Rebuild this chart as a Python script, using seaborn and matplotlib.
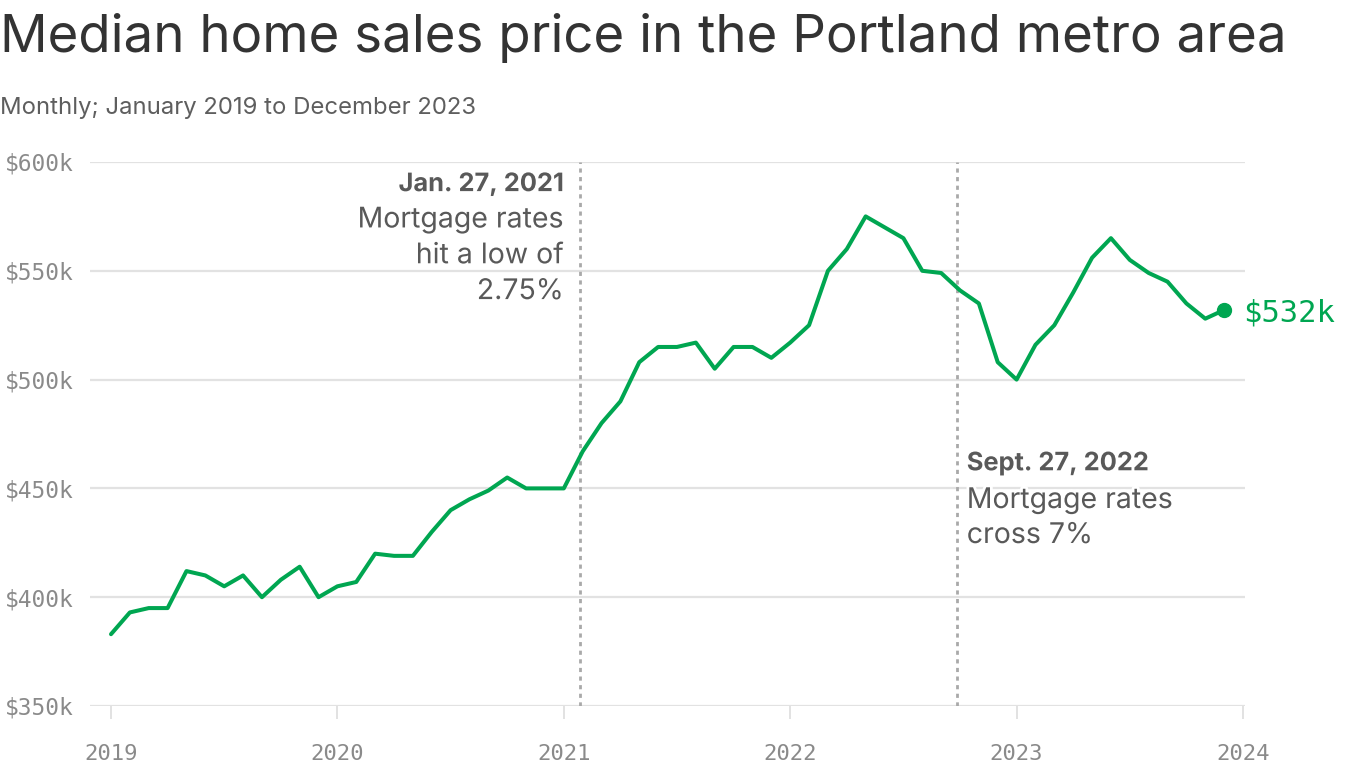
import matplotlib
matplotlib.use("Agg")
import matplotlib.pyplot as plt
import matplotlib.patheffects as pe
import seaborn as sns
import pandas as pd
import numpy as np

# ---- data (thousands of dollars), monthly Jan 2019 .. Dec 2023 ----
months = pd.date_range("2019-01-01", "2023-12-01", freq="MS")
price_k = [
    383, 393, 395, 395, 412, 410, 405, 410, 400, 408, 414, 400,   # 2019
    405, 407, 420, 419, 419, 430, 440, 445, 449, 455, 450, 450,   # 2020
    450, 467, 480, 490, 508, 515, 515, 517, 505, 515, 515, 510,   # 2021
    517, 525, 550, 560, 575, 570, 565, 550, 549, 541, 535, 508,   # 2022
    500, 516, 525, 540, 556, 565, 555, 549, 545, 535, 528, 532,   # 2023
]
year_ticks = [2019, 2020, 2021, 2022, 2023, 2024]
y_ticks = [350, 400, 450, 500, 550, 600]
y_tick_labels = ["$350k", "$400k", "$450k", "$500k", "$550k", "$600k"]
events_x = [2021 + 26 / 365, 2022 + 269 / 365]
event_titles = ["Jan. 27, 2021", "Sept. 27, 2022"]
event_texts = ["Mortgage rates\nhit a low of\n2.75%", "Mortgage rates\ncross 7%"]
last_label = "$532k"

df = pd.DataFrame({
    "t": months.year + (months.month - 1) / 12.0,
    "price": price_k,
})

sns.set_theme(style="white")
plt.rcParams["font.family"] = ["Inter", "DejaVu Sans"]

GREEN = "#00A651"
GRID = "#e2e2e2"
TICKC = "#8a8a8a"
ANNC = "#595959"
MONO = "DejaVu Sans Mono"

fig = plt.figure(figsize=(13.66, 7.68), dpi=100)
W, H = 1366, 768
ax = fig.add_axes([90 / W, (H - 706) / H, (1245 - 90) / W, (706 - 162) / H])

# x scale: 2019 at px 111, 2024 at px 1243
px_per_year = (1243 - 111) / 5
ax.set_xlim(2019 - (111 - 90) / px_per_year, 2024 + (1245 - 1243) / px_per_year)
ax.set_ylim(350, 600)

for y in y_ticks:
    ax.axhline(y, color=GRID, lw=1.6, zorder=0)

for ex in events_x:
    ax.axvline(ex, color="#a9a9a9", lw=2.0, dashes=(1.5, 1.6), zorder=1)

sns.lineplot(data=df, x="t", y="price", ax=ax, color=GREEN, lw=2.9,
             zorder=3, legend=False)
ax.plot(df["t"].iloc[-1], df["price"].iloc[-1], "o", color=GREEN,
        markersize=10, zorder=4)
ax.annotate(last_label, (df["t"].iloc[-1], df["price"].iloc[-1]),
            xytext=(14, -2), textcoords="offset points", va="center",
            ha="left", fontsize=22, color=GREEN, fontfamily=MONO,
            annotation_clip=False)

for s in ax.spines.values():
    s.set_visible(False)

ax.set_xticks(year_ticks)
ax.set_xticklabels([str(y) for y in year_ticks], fontfamily=MONO, fontsize=16,
                   color=TICKC)
ax.tick_params(axis="x", length=9, width=1.4, color=GRID, pad=18,
               bottom=True)
ax.set_yticks(y_ticks)
ax.set_yticklabels(y_tick_labels, fontfamily=MONO, fontsize=16.5, color=TICKC,
                   ha="left")
ax.tick_params(axis="y", length=0, pad=61)
ax.set_xlabel("")
ax.set_ylabel("")
ax.grid(False)

halo = [pe.withStroke(linewidth=4, foreground="white")]
# event annotations
ax.annotate(event_titles[0], (2021, 600), xytext=(0, -8),
            textcoords="offset points", ha="right", va="top",
            fontsize=18.3, fontweight="bold", color=ANNC, path_effects=halo)
ax.annotate(event_texts[0], (2021, 600), xytext=(0, -32),
            textcoords="offset points", ha="right", va="top",
            fontsize=20.5, color=ANNC, linespacing=1.42, path_effects=halo)
ax.annotate(event_titles[1], (events_x[1], 600), xytext=(7, -209),
            textcoords="offset points", ha="left", va="top",
            fontsize=18.3, fontweight="bold", color=ANNC, path_effects=halo)
ax.annotate(event_texts[1], (events_x[1], 600), xytext=(7, -234),
            textcoords="offset points", ha="left", va="top",
            fontsize=20.5, color=ANNC, linespacing=1.38, path_effects=halo)

fig.text(0 / W, 1 - 38 / H, "Median home sales price in the Portland metro area",
         fontsize=38, color="#333333", ha="left", va="center")
fig.text(0 / W, 1 - 108 / H, "Monthly; January 2019 to December 2023",
         fontsize=17.2, color="#5e5e5e", ha="left", va="center")

fig.savefig("out.png", dpi=100, facecolor="white")
